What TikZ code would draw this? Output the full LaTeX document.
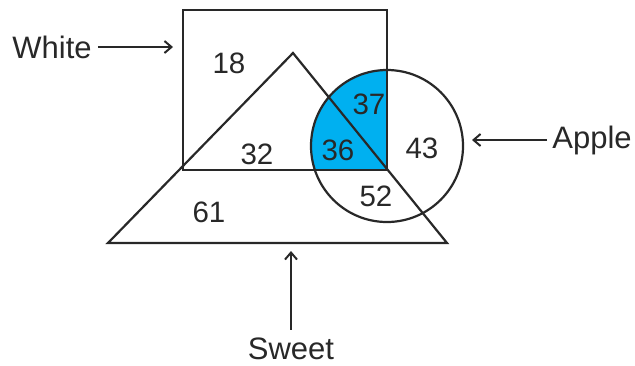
\documentclass[tikz,border=0pt]{standalone}
\usepackage{fontspec}
\setmainfont{Liberation Sans}
\usetikzlibrary{arrows.meta}
\definecolor{ink}{RGB}{40,40,40}
\definecolor{skyblue}{RGB}{0,176,240}
\tikzset{
  shapeline/.style={draw=ink, line width=2.2pt, line join=miter},
  num/.style={font=\fontsize{29.5}{29.5}\selectfont, text=ink, inner sep=0pt},
  lbl/.style={font=\fontsize{31}{31}\selectfont, text=ink, inner sep=0pt},
  pointer/.style={draw=ink, line width=2pt, -{Straight Barb[length=7pt, width=12pt, line width=2pt]}}
}
\begin{document}
\begin{tikzpicture}[x=1pt, y=-1pt]
\useasboundingbox (0,0) rectangle (635,365);
% regions
\coordinate (rTL) at (183,10);
\coordinate (rBR) at (387,170);
\coordinate (tA) at (293,53);
\coordinate (tL) at (108,243);
\coordinate (tR) at (447,243);
\coordinate (cC) at (387,146);
% blue: circle inside rectangle
\begin{scope}
  \clip (rTL) rectangle (rBR);
  \fill[skyblue] (cC) circle[radius=76];
\end{scope}
\draw[shapeline] (rTL) rectangle (rBR);
\draw[shapeline] (tA) -- (tL) -- (tR) -- cycle;
\draw[shapeline] (cC) circle[radius=76];
% numbers
\node[num] (n18) at (229,63) {18};
\node[num] (n32) at (257,154) {32};
\node[num] (n37) at (369,104) {37};
\node[num] (n36) at (338,150) {36};
\node[num] (n43) at (422,148) {43};
\node[num] (n52) at (376,196) {52};
\node[num] (n61) at (209,212) {61};
% labels and pointers
\node[lbl] (white) at (52,47) {White};
\coordinate (whiteTip) at (173,47);
\draw[pointer] (white.east) ++(6,0) -- (whiteTip);
\node[lbl] (apple) at (592,140) {Apple};
\coordinate (appleTip) at (472,140);
\draw[pointer] (apple.west) ++(-5,0) -- (appleTip);
\node[lbl] (sweet) at (291,349) {Sweet};
\coordinate (sweetTip) at (291,251);
\draw[pointer] (sweet.north) ++(0,-8) -- (sweetTip);
\end{tikzpicture}
\end{document}
